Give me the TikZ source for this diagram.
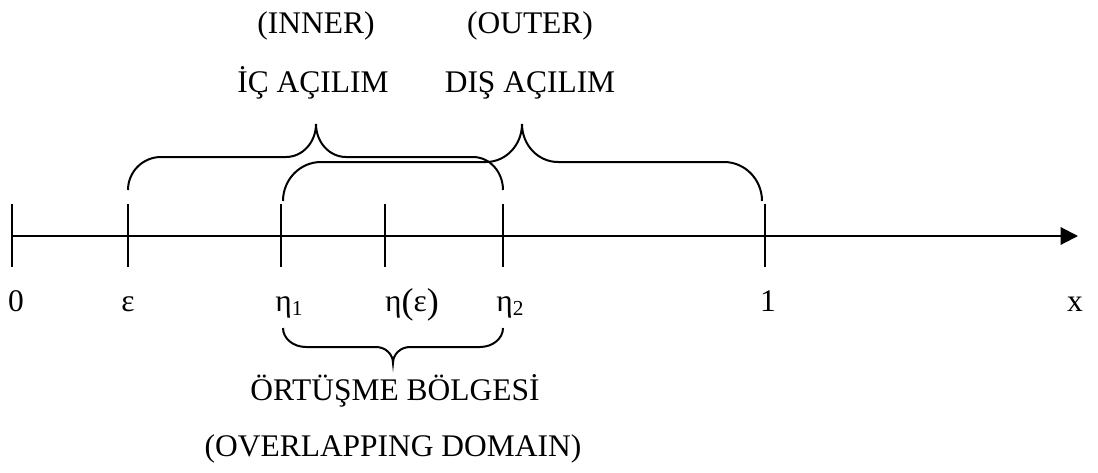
\documentclass[tikz,border=0pt]{standalone}
\usepackage{fontspec}
\setmainfont{Liberation Serif}
\usetikzlibrary{arrows.meta}
\newcommand{\smallsub}[1]{\raisebox{-1.5pt}{\fontsize{8pt}{9pt}\selectfont #1}}
\newcommand{\bigparen}[1]{\raisebox{-0.8pt}{\fontsize{13.5pt}{14pt}\selectfont #1}}
\begin{document}
\begin{tikzpicture}[x=0.375pt,y=-0.375pt,line width=0.75pt,
  lbl/.style={font=\fontsize{11.8pt}{14pt}\selectfont,inner sep=0pt,anchor=base},
  tickmark/.style={line width=0.75pt},
  bracepath/.style={line width=0.75pt}]
\useasboundingbox (0,0) rectangle (1098,472);
% axis
\coordinate (a0) at (12,236);
\coordinate (aend) at (1078,236);
\draw[-{Triangle[length=6.5pt,width=6.5pt]}] (a0) -- (aend);
% ticks
\foreach \n/\x in {t0/12,te/128,th1/281,the/385,th2/503,t1/765}{
  \coordinate (\n top) at (\x,204);
  \coordinate (\n bot) at (\x,267);
  \draw[tickmark] (\n top) -- (\n bot);
}
% inner brace
\draw[bracepath] (128,190) arc[start angle=180,end angle=270,x radius=33,y radius=33]
  -- (286,157) arc[start angle=90,end angle=0,x radius=30,y radius=33]
  arc[start angle=180,end angle=90,x radius=30,y radius=33]
  -- (473,157) arc[start angle=270,end angle=360,x radius=30,y radius=33];
% outer brace
\draw[bracepath] (283,201) arc[start angle=180,end angle=270,x radius=38,y radius=39]
  -- (486,162) arc[start angle=90,end angle=0,x radius=36,y radius=38]
  arc[start angle=180,end angle=90,x radius=36,y radius=38]
  -- (724,162) arc[start angle=270,end angle=360,x radius=38,y radius=39];
% overlap brace
\draw[bracepath] (283,328) arc[start angle=180,end angle=90,x radius=23,y radius=19]
  -- (376,347) arc[start angle=270,end angle=360,x radius=17,y radius=16]
  arc[start angle=180,end angle=270,x radius=17,y radius=16]
  -- (480,347) arc[start angle=90,end angle=0,x radius=23,y radius=19];
% texts
\node[lbl] (inner) at (316,33) {(INNER)};
\node[lbl] (outer) at (530,33) {(OUTER)};
\node[lbl] (ic) at (313,92) {İÇ AÇILIM};
\node[lbl] (dis) at (530,92) {DIŞ AÇILIM};
\node[lbl] (l0) at (16,311) {0};
\node[lbl] (le) at (128,311) {ε};
\node[lbl] (lh1) at (289,311) {η\smallsub{1}};
\node[lbl] (lhe) at (412,311) {η\bigparen{(}ε\bigparen{)}};
\node[lbl] (lh2) at (510,311) {η\smallsub{2}};
\node[lbl] (l1) at (768,311) {1};
\node[lbl] (lx) at (1075,311) {x};
\node[lbl] (ort) at (395,400) {ÖRTÜŞME BÖLGESİ};
\node[lbl] (ovl) at (393,456) {(OVERLAPPING DOMAIN)};
\end{tikzpicture}
\end{document}
